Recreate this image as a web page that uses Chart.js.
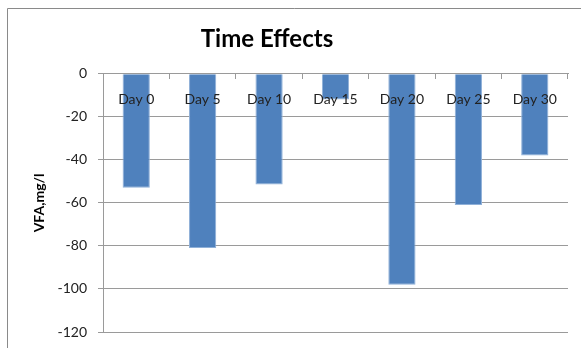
<!DOCTYPE html>
<html>
<head>
<meta charset="utf-8">
<script src="https://cdn.jsdelivr.net/npm/chart.js@4/dist/chart.umd.min.js"></script>
<style>
  html, body { margin: 0; padding: 0; background: #ffffff; }
  #wrap { width: 581px; height: 348px; position: relative; }
</style>
</head>
<body>
<div id="wrap"><canvas id="chart" width="581" height="348"></canvas></div>
<script>
// Categories and measured VFA change per sampling day
const days = ['Day 0', 'Day 5', 'Day 10', 'Day 15', 'Day 20', 'Day 25', 'Day 30'];
const vfaChange = [-53, -81, -51.5, -12, -98, -61, -38];
const yTicks = [0, -20, -40, -60, -80, -100, -120];

const FONT = 'Lato, "Open Sans", sans-serif';
const GRID = '#9a9a9a';

// Thin frame along the top and left edges of the chart object
const framePlugin = {
  id: 'frame',
  beforeDraw(chart) {
    const ctx = chart.ctx;
    ctx.save();
    ctx.strokeStyle = '#8a8a8a';
    ctx.lineWidth = 1;
    ctx.beginPath();
    ctx.moveTo(7.5, chart.height);
    ctx.lineTo(7.5, 8.5);
    ctx.lineTo(chart.width, 8.5);
    ctx.stroke();
    ctx.restore();
  }
};

// Centre the title a little left of the canvas middle
const titleShiftPlugin = {
  id: 'titleShift',
  afterLayout(chart) {
    const tb = chart.titleBlock;
    if (tb) {
      tb.left = 0;
      tb.right = 534;
    }
  }
};

new Chart(document.getElementById('chart'), {
  type: 'bar',
  data: {
    labels: days,
    datasets: [{
      label: 'VFA',
      data: vfaChange,
      backgroundColor: '#4f81bd',
      borderColor: '#8fb0d8',
      borderWidth: 1,
      borderSkipped: 'start',
      categoryPercentage: 1,
      barPercentage: 0.41
    }]
  },
  options: {
    responsive: false,
    animation: false,
    layout: { padding: { top: 0, right: 13, bottom: 16, left: 0 } },
    plugins: {
      legend: { display: false },
      tooltip: { enabled: false },
      title: {
        display: true,
        text: 'Time Effects',
        color: '#000000',
        font: { family: FONT, size: 24, weight: 'bold' },
        padding: { top: 25, bottom: 20 }
      }
    },
    scales: {
      x: {
        position: { y: 0 },
        grid: {
          offset: true,
          drawOnChartArea: false,
          drawTicks: true,
          tickLength: 5,
          color: GRID
        },
        border: { display: true, color: GRID },
        ticks: {
          z: 1,
          color: '#222222',
          font: { family: FONT, size: 14 },
          padding: 12,
          maxRotation: 0
        }
      },
      y: {
        min: -120,
        max: 0,
        afterBuildTicks(scale) {
          scale.ticks = yTicks.map(v => ({ value: v }));
        },
        afterFit(scale) {
          scale.width = 103;
          scale.paddingTop = 0;
          scale.paddingBottom = 0;
        },
        grid: { color: GRID, tickLength: 5 },
        border: { display: true, color: GRID },
        ticks: {
          color: '#222222',
          font: { family: FONT, size: 14 },
          padding: 11
        },
        title: {
          display: true,
          text: 'VFA,mg/l',
          color: '#000000',
          font: { family: FONT, size: 14, weight: 'bold' },
          padding: { top: 31, bottom: 0 }
        }
      }
    }
  },
  plugins: [framePlugin, titleShiftPlugin]
});
</script>
</body>
</html>
